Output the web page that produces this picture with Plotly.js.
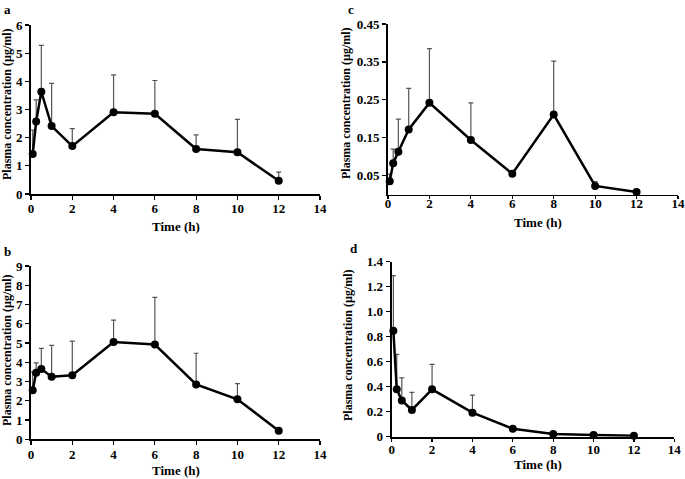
<!DOCTYPE html>
<html>
<head>
<meta charset="utf-8">
<script src="https://cdn.plot.ly/plotly-3.0.1.min.js"></script>
<style>html,body{margin:0;padding:0;background:#fff;}#chart{width:685px;height:479px;}</style>
</head>
<body>
<div id="chart"></div>
<script>
// Sampling times (h)
const times = [0.083, 0.25, 0.5, 1, 2, 4, 6, 8, 10, 12];

// Panel a
const meanA = [1.42, 2.57, 3.63, 2.41, 1.70, 2.90, 2.85, 1.60, 1.48, 0.47];
const sdA   = [0.85, 0.77, 1.65, 1.52, 0.62, 1.33, 1.18, 0.50, 1.17, 0.31];
// Panel b
const meanB = [2.55, 3.45, 3.65, 3.25, 3.33, 5.05, 4.92, 2.85, 2.08, 0.45];
const sdB   = [0.95, 0.52, 1.07, 1.63, 1.77, 1.14, 2.45, 1.62, 0.81, 0];
// Panel c
const meanC = [0.035, 0.083, 0.113, 0.172, 0.242, 0.144, 0.055, 0.211, 0.023, 0.007];
const sdC   = [0.019, 0.037, 0.086, 0.108, 0.143, 0.098, 0, 0.141, 0.011, 0];
// Panel d
const meanD = [0.848, 0.379, 0.29, 0.214, 0.379, 0.192, 0.064, 0.022, 0.014, 0.008];
const sdD   = [0.44, 0.28, 0.18, 0.14, 0.20, 0.14, 0, 0, 0, 0];

// Tick labels
const xTicks = [0, 2, 4, 6, 8, 10, 12, 14];
const yTicksA = [0, 1, 2, 3, 4, 5, 6];
const yTicksB = [0, 1, 2, 3, 4, 5, 6, 7, 8, 9];
const yTicksC = [0.05, 0.15, 0.25, 0.35, 0.45];
const yTicksCText = ['0.05', '0.15', '0.25', '0.35', '0.45'];
const yTicksD = [0, 0.2, 0.4, 0.6, 0.8, 1.0, 1.2, 1.4];
const yTicksDText = ['0', '0.2', '0.4', '0.6', '0.8', '1.0', '1.2', '1.4'];

const panelLabels = ['a', 'b', 'c', 'd'];
const yTitle = 'Plasma concentration (µg/ml)';
const xTitle = 'Time (h)';

const FONT = '"Liberation Serif", "Times New Roman", serif';
const W = 685, H = 479;

function trace(means, sds, xa, ya) {
  return {
    x: times, y: means, xaxis: xa, yaxis: ya,
    type: 'scatter', mode: 'lines+markers',
    line: {color: '#000', width: 2.5},
    marker: {color: '#000', size: 8},
    error_y: {type: 'data', symmetric: false, array: sds,
      arrayminus: sds.map(() => 0), color: '#555', thickness: 1.2, width: 2.5},
    showlegend: false, cliponaxis: false
  };
}

const data = [
  trace(meanA, sdA, 'x', 'y'),
  trace(meanB, sdB, 'x2', 'y2'),
  trace(meanC, sdC, 'x3', 'y3'),
  trace(meanD, sdD, 'x4', 'y4')
];

function xax(x0, x1, anchor, standoff, tlen) {
  return {
    domain: [x0 / W, x1 / W], anchor: anchor, range: [0, 14],
    tickvals: xTicks, ticks: 'outside', ticklen: tlen, tickwidth: 1.2, tickcolor: '#000',
    ticklabelstandoff: standoff,
    showline: true, linecolor: '#000', linewidth: 1.8, showgrid: false, zeroline: false,
    tickfont: {family: FONT, size: 13, color: '#000', weight: 'bold'}, fixedrange: true
  };
}
function yax(y0px, y1px, range, vals, text, anchor) {
  const o = {
    domain: [1 - y0px / H, 1 - y1px / H], anchor: anchor, range: range,
    tickvals: vals, ticks: 'outside', ticklen: 4, tickwidth: 1.2, tickcolor: '#000',
    showline: true, linecolor: '#000', linewidth: 2, showgrid: false, zeroline: false,
    tickfont: {family: FONT, size: 13, color: '#000', weight: 'bold'}, fixedrange: true
  };
  if (text) o.ticktext = text;
  return o;
}

const layout = {
  width: W, height: H,
  margin: {l: 0, r: 0, t: 0, b: 0},
  paper_bgcolor: '#fff', plot_bgcolor: 'rgba(0,0,0,0)',
  font: {family: FONT, color: '#000'},
  xaxis: xax(31, 320, 'y', -2, 4),
  yaxis: yax(194, 25, [0, 6], yTicksA, null, 'x'),
  xaxis2: xax(31, 320, 'y2', -2, 4),
  yaxis2: yax(439.3, 266, [0, 9], yTicksB, null, 'x2'),
  xaxis3: xax(388, 678, 'y3', -7, 3),
  yaxis3: yax(194.6, 24, [0, 0.45], yTicksC, yTicksCText, 'x3'),
  xaxis4: xax(391.7, 674.3, 'y4', -3, 3),
  yaxis4: yax(436.7, 261.7, [0, 1.4], yTicksD, yTicksDText, 'x4'),
  annotations: []
};

const ann = layout.annotations;
function txt(text, xpx, ypx, size, angle, xanchor, yanchor) {
  ann.push({text: text, x: xpx / W, y: 1 - ypx / H, xref: 'paper', yref: 'paper',
    showarrow: false, textangle: angle || 0, xanchor: xanchor || 'center', yanchor: yanchor || 'middle',
    font: {family: FONT, size: size, color: '#000', weight: 'bold'}});
}
// panel letters
txt(panelLabels[0], 2, 0, 13, 0, 'left', 'top');
txt(panelLabels[1], 2, 242, 13, 0, 'left', 'top');
txt(panelLabels[2], 346, 0, 13, 0, 'left', 'top');
txt(panelLabels[3], 348, 239, 13, 0, 'left', 'top');
// x titles
txt(xTitle, 176, 226, 13);
txt(xTitle, 176, 470, 13);
txt(xTitle, 538, 222, 13);
txt(xTitle, 538, 464, 13);
// y titles
txt(yTitle, 7, 104, 12, -90);
txt(yTitle, 7, 350, 12, -90);
txt(yTitle, 346, 103, 12, -90);
txt(yTitle, 348, 345, 12, -90);

Plotly.newPlot('chart', data, layout, {displayModeBar: false, staticPlot: true});
</script>
</body>
</html>
